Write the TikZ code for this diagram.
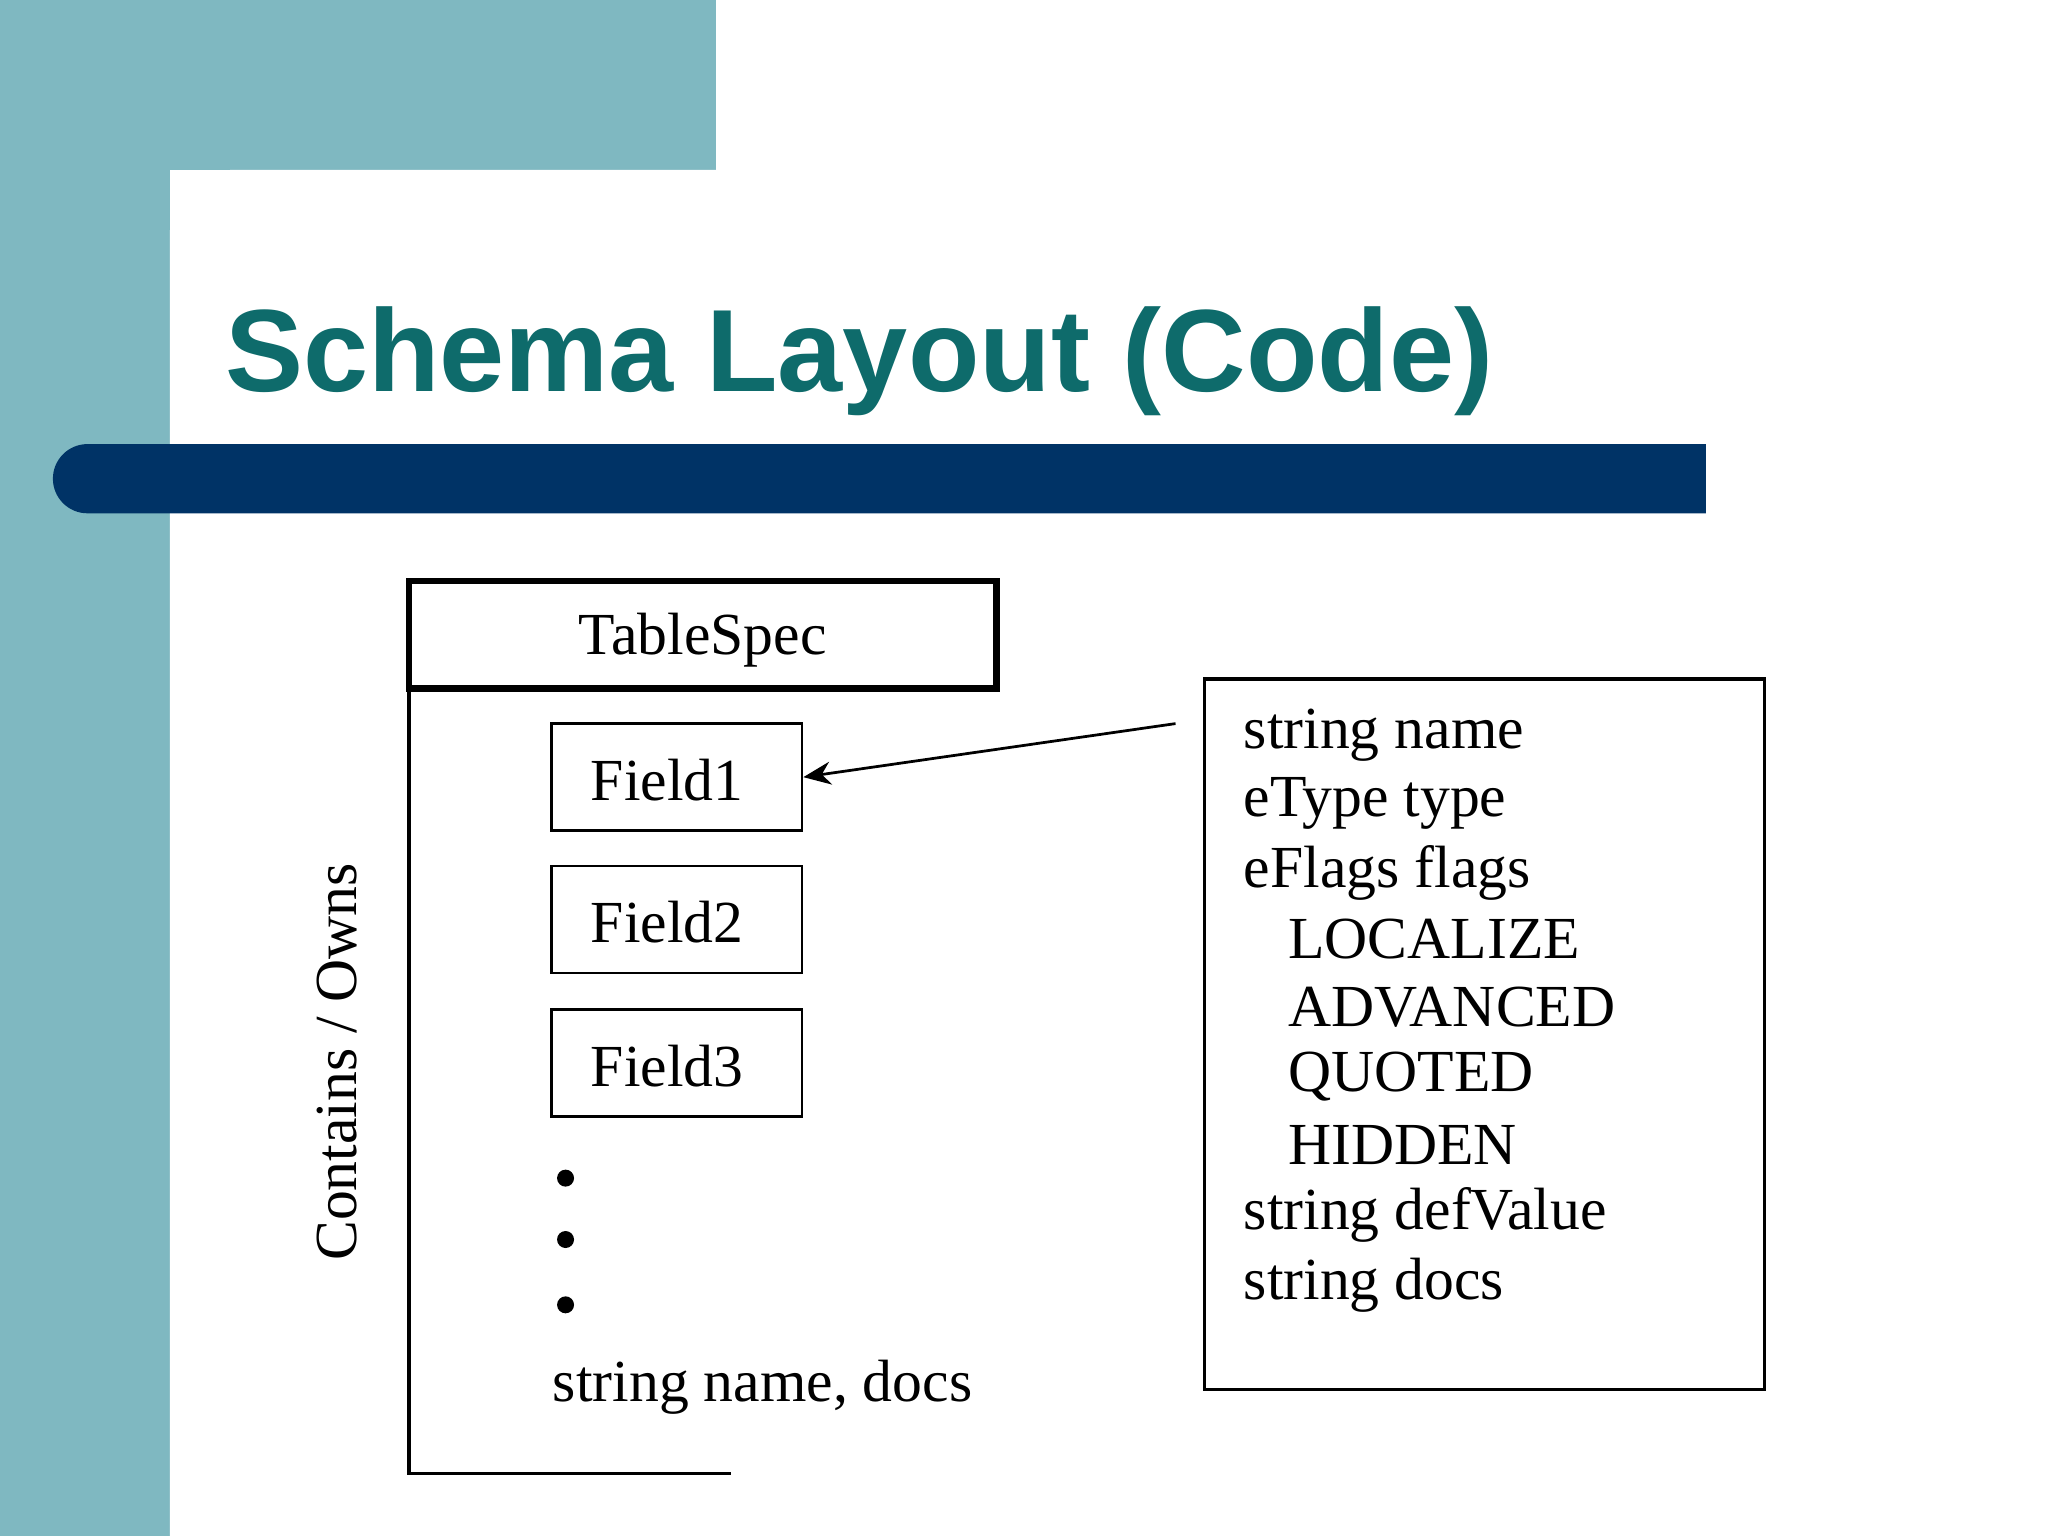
\documentclass[tikz,border=0pt]{standalone}
\usepackage{fontspec}
\usetikzlibrary{arrows.meta}
\setmainfont{Liberation Serif}
\newfontfamily\titlefont{Liberation Sans}
\begin{document}
\begin{tikzpicture}[x=0.02cm,y=-0.02cm,
  txt/.style={font=\fontsize{26}{30}\selectfont,inner sep=0},
  fbox/.style={draw,line width=1.2pt,minimum width=192*0.02cm,minimum height=82*0.02cm,inner sep=0}]
\useasboundingbox (0,0) rectangle (1568,1176);
\definecolor{teal1}{HTML}{7FB8C1}
\definecolor{navy}{HTML}{003366}
\definecolor{ttl}{HTML}{0E6B6B}
\fill[teal1] (0,0) rectangle (548,130);
\fill[teal1] (0,0) rectangle (130,1176);
\fill[white] (130,1176) -- (130,180) arc[start angle=180,end angle=90,radius=50*0.02cm] -- (548,130) -- (548,1176) -- cycle;
\node[anchor=base west,inner sep=0,text=ttl,font=\titlefont\bfseries\fontsize{51}{60}\selectfont] (title) at (172,300) {Schema Layout (Code)};
\fill[navy] (1306,340) -- (67,340) arc[start angle=90,end angle=270,radius=26.5*0.02cm] -- (1306,393) -- cycle;
\node[draw,line width=2.8pt,minimum width=450*0.02cm,minimum height=82*0.02cm,inner sep=0] (ts) at (538,486) {};
\node[txt] at (538,490) {TableSpec};
\draw[line width=1.5pt] (313,527) -- (313,1128) -- (560,1128);
\node[fbox] (f1) at (518,595) {};
\node[fbox] (f2) at (518,704) {};
\node[fbox] (f3) at (518,814) {};
\node[txt,anchor=west] at (452,597) {Field1};
\node[txt,anchor=west] at (452,706) {Field2};
\node[txt,anchor=west] at (452,816) {Field3};
\foreach \yy in {902,949,999} \fill (433,\yy) circle (6.5*0.02cm);
\node[txt,anchor=west] at (423,1062) {string name, docs};
\node[txt,rotate=90] at (258,813) {Contains / Owns};
\node[draw,line width=1.5pt,minimum width=429*0.02cm,minimum height=544*0.02cm,inner sep=0] (rb) at (1136.5,792) {};
\coordinate (src) at (900,554);
\draw[line width=1.2pt,-{Stealth[length=12pt,width=10pt]}] (src) -- (f1.east);
\foreach \t/\yy/\xx in {string name/563/952, eType type/615/952, eFlags flags/668/952, LOCALIZE/719/986, ADVANCED/771/986, QUOTED/824/986, HIDDEN/877/986, string defValue/930/952, string docs/984/952}
  \node[txt,anchor=west] at (\xx,\yy) {\t};
\end{tikzpicture}
\end{document}
